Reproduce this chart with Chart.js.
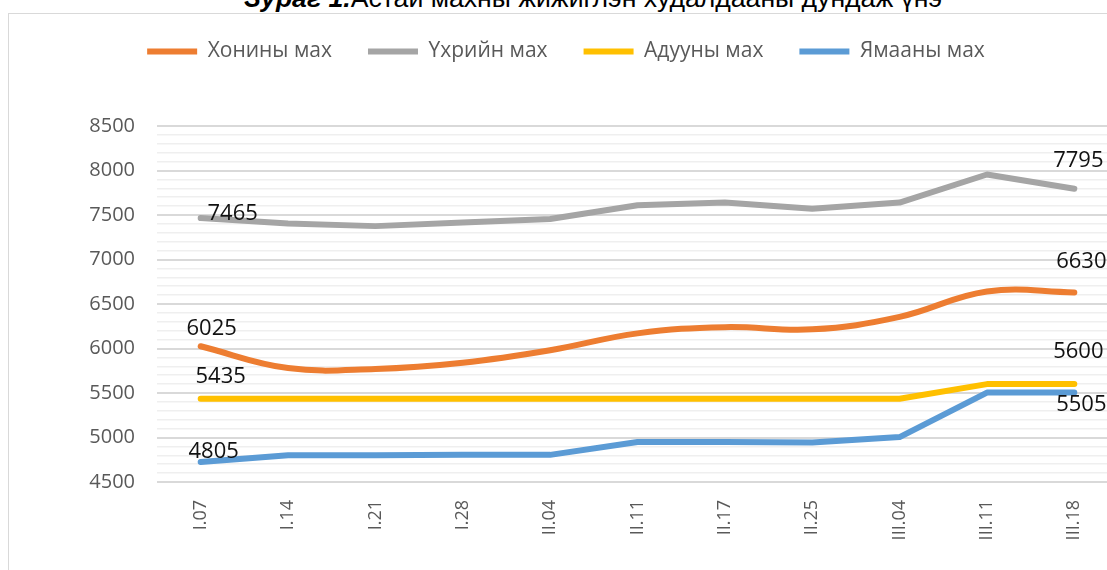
<!DOCTYPE html>
<html>
<head>
<meta charset="utf-8">
<script src="https://cdn.jsdelivr.net/npm/chart.js@4"></script>
<style>
  body { margin: 0; width: 1107px; height: 570px; overflow: hidden; background: #fff; position: relative; }
  #title { position: absolute; left: 244px; top: -15px; font: 26.6px/26px "Liberation Sans", Arial, sans-serif; color: #000; white-space: nowrap; }
  #frame { position: absolute; left: 8px; top: 13px; width: 1200px; height: 700px; border: 1px solid #d9d9d9; pointer-events: none; }
  #chart { position: absolute; left: 9px; top: 0; }
</style>
</head>
<body>
<div id="title"><b><i>Зураг 1.</i></b>Астай махны жижиглэн худалдааны дундаж үнэ</div>
<canvas id="chart" width="1115" height="570"></canvas>
<div id="frame"></div>
<script>
    const dates = ['I.07', 'I.14', 'I.21', 'I.28', 'II.04', 'II.11', 'II.17', 'II.25', 'III.04', 'III.11', 'III.18'];

    const sheep = [6025, 5780, 5770, 5840, 5980, 6170, 6240, 6215, 6355, 6640, 6630];
    const beef  = [7465, 7405, 7375, 7415, 7455, 7610, 7640, 7570, 7640, 7955, 7795];
    const horse = [5435, 5435, 5435, 5435, 5435, 5435, 5435, 5435, 5435, 5600, 5600];
    const goat  = [4725, 4800, 4800, 4805, 4805, 4950, 4950, 4945, 5005, 5505, 5505];

    // values printed next to the first and last point of each line
    const sheepLabels = ['6025', '6630'];
    const beefLabels  = ['7465', '7795'];
    const horseLabels = ['5435', '5600'];
    const goatLabels  = ['4805', '5505'];

    // label offsets from the point [dx, dy] for first and last label
    const labelOffsets = [
        [[11, -18], [7, -31]],
        [[32, -4], [4, -28]],
        [[20, -22], [4, -32]],
        [[13, -10], [7, 12]]
    ];
    const endLabels = [sheepLabels, beefLabels, horseLabels, goatLabels];

    const endLabelPlugin = {
        id: 'endLabels',
        afterDatasetsDraw(chart) {
            const ctx = chart.ctx;
            ctx.save();
            ctx.font = '22px "Open Sans", sans-serif';
            ctx.fillStyle = '#111';
            ctx.textAlign = 'center';
            ctx.textBaseline = 'middle';
            chart.data.datasets.forEach((ds, i) => {
                const pts = chart.getDatasetMeta(i).data;
                const idx = [0, pts.length - 1];
                idx.forEach((p, k) => {
                    const off = labelOffsets[i][k];
                    ctx.fillText(endLabels[i][k], pts[p].x + off[0], pts[p].y + off[1]);
                });
            });
            ctx.restore();
        }
    };

    // leave room between legend and plot
    const legendGap = {
        id: 'legendGap',
        beforeLayout(chart) {
            const lg = chart.legend;
            if (lg && !lg._gapPatched) {
                const fit = lg.fit;
                lg.fit = function () {
                    fit.call(this);
                    this.height += 54;
                };
                lg._gapPatched = true;
            }
        }
    };

    const line = (label, data, color, order, tension) => ({
        label: label,
        data: data,
        borderColor: color,
        backgroundColor: color,
        borderWidth: 6,
        borderCapStyle: 'round',
        borderJoinStyle: 'round',
        pointRadius: 0,
        pointStyle: 'line',
        tension: tension,
        order: order,
        fill: false
    });

    new Chart(document.getElementById('chart'), {
        type: 'line',
        data: {
            labels: dates,
            datasets: [
                line('Хонины мах', sheep, '#ED7D31', 3, 0.4),
                line('Үхрийн мах', beef, '#A5A5A5', 2, 0),
                line('Адууны мах', horse, '#FFC000', 1, 0),
                line('Ямааны мах', goat, '#5B9BD5', 0, 0)
            ]
        },
        options: {
            responsive: false,
            animation: false,
            layout: { padding: { left: 5, right: 6, top: 5, bottom: 28 } },
            plugins: {
                legend: {
                    position: 'top',
                    labels: {
                        usePointStyle: true,
                        pointStyleWidth: 50,
                        padding: 36,
                        color: '#595959',
                        font: { family: '"Open Sans", sans-serif', size: 21 },
                        sort: (a, b) => a.datasetIndex - b.datasetIndex
                    }
                },
                tooltip: { enabled: false }
            },
            scales: {
                x: {
                    offset: true,
                    grid: { display: false, drawTicks: false },
                    border: { display: false },
                    afterFit: (s) => { s.height = 60; },
                    ticks: {
                        autoSkip: false,
                        minRotation: 90,
                        maxRotation: 90,
                        padding: 18,
                        color: '#595959',
                        font: { family: '"Open Sans", sans-serif', size: 18 }
                    }
                },
                y: {
                    min: 4500,
                    max: 8500,
                    afterFit: (s) => { s.width = 143; },
                    border: { display: false },
                    grid: {
                        drawTicks: false,
                        color: (c) => c.tick.value % 500 === 0 ? '#d9d9d9' : '#efefef',
                        lineWidth: (c) => c.tick.value % 500 === 0 ? 2 : 1.5
                    },
                    ticks: {
                        stepSize: 100,
                        maxTicksLimit: 100,
                        autoSkip: false,
                        padding: 22,
                        color: '#595959',
                        font: { family: '"Open Sans", sans-serif', size: 20 },
                        callback: (v) => v % 500 === 0 ? String(v) : ''
                    }
                }
            }
        },
        plugins: [endLabelPlugin, legendGap]
    });
</script>
</body>
</html>
